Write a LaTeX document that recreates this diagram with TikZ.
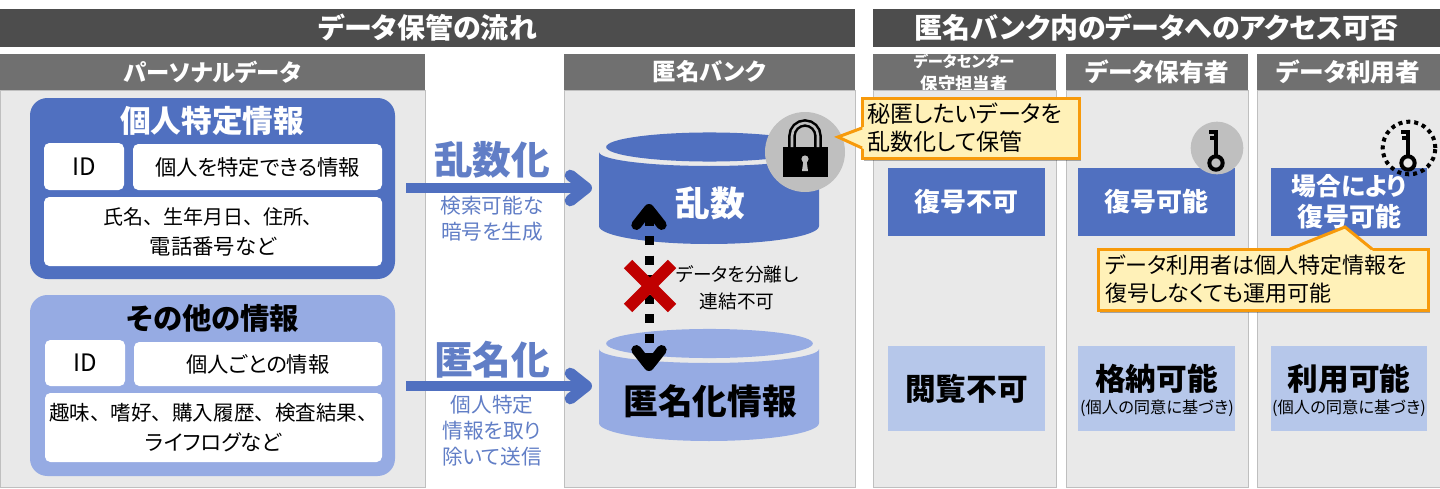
\documentclass[tikz,border=0pt]{standalone}
\usepackage{fontspec}
\setmainfont{Noto Sans CJK JP}[RawFeature=+palt]
\newfontfamily\fullwidth{Noto Sans CJK JP}
\usetikzlibrary{arrows.meta,shapes.misc,shadows}
\definecolor{titlegray}{HTML}{4D4D4D}
\definecolor{headgray}{HTML}{707070}
\definecolor{panelgray}{HTML}{E9E9E9}
\definecolor{edgegray}{HTML}{BFBFBF}
\definecolor{darkblue}{HTML}{5070C0}
\definecolor{midblue}{HTML}{96ABE3}
\definecolor{paleblue}{HTML}{B6C7EA}
\definecolor{noteyellow}{HTML}{FFF1B8}
\definecolor{noteorange}{HTML}{F79A0B}
\definecolor{crossred}{HTML}{C00000}
\newcommand{\pxfont}[2]{\fontsize{#1pt}{#2pt}\selectfont}
\tikzset{
    sized/.style 2 args={
        anchor=north west,
        minimum width=#1*0.75pt,
        minimum height=#2*0.75pt,
        inner sep=0pt,
        outer sep=0pt,
        align=center,
    },
    titlebar/.style={
        fill=titlegray,
        text=white,
        font=\pxfont{21}{24}\bfseries,
    },
    headbar/.style={
        fill=headgray,
        text=white,
        font=\pxfont{17.5}{21}\bfseries,
    },
    panel/.style={
        fill=panelgray,
        draw=edgegray,
        line width=0.75pt,
    },
    infobox/.style={
        rounded corners=13pt,
    },
    whitebox/.style={
        fill=white,
        rounded corners=4pt,
        font=\pxfont{16}{22.5},
    },
    bigword/.style={
        text=darkblue!90!white,
        font=\pxfont{29}{32}\bfseries,
    },
    smallword/.style={
        text=darkblue!90!white,
        align=center,
        font=\pxfont{15.5}{19.5},
    },
    dbword/.style={
        font=\pxfont{26}{30}\bfseries,
    },
    darkcell/.style={
        fill=darkblue,
        text=white,
        font=\pxfont{19.5}{23.5}\bfseries,
    },
    palecell/.style={
        fill=paleblue,
        font=\pxfont{23}{27}\bfseries,
    },
    consent/.style={
        inner sep=0pt,
        font=\pxfont{12.2}{14},
    },
    flowarrow/.style={
        draw=darkblue,
        line width=7.5pt,
        -{Straight Barb[round,length=12pt,width=19pt,line width=8.5pt]},
    },
    linkarrow/.style={
        draw=black,
        line width=6.75pt,
        dash pattern=on 6.75pt off 7.9pt,
        dash phase=-2pt,
        {Straight Barb[round,length=12pt,width=19pt,line width=7.5pt]}-{Straight Barb[round,length=12pt,width=19pt,line width=7.5pt]},
    },
    crossmark/.style={
        cross out,
        draw=crossred,
        line width=9pt,
        minimum size=33pt,
        inner sep=0pt,
        outer sep=0pt,
    },
    notebox/.style={
        rectangle,
        fill=noteyellow,
        draw=noteorange,
        line width=2.25pt,
        font=\pxfont{16.5}{21},
        drop shadow={shadow xshift=1.5pt,shadow yshift=-2.5pt,opacity=0.3,fill=black},
    },
    notetail/.style={
        draw=noteorange,
        line width=2.25pt,
        line join=miter,
    },
    iconring/.style={
        fill=edgegray,
    },
    keyicon/.pic={
        \draw[line width=3.3pt] (0,-18) -- (0,9);
        \draw[line width=3pt] (-7,-16.5) -- (0,-16.5);
        \draw[line width=3pt] (-6,-10) -- (0,-10);
        \draw[line width=3pt] (0,15) circle[radius=5pt];
    },
}

\newcommand{\dbstack}[3]{
    \fill[#1] (599,#2) -- (599,#2+74) arc[start angle=180,end angle=360,x radius=82.5pt,y radius=13.5pt]
        -- (819,#2) arc[start angle=360,end angle=180,x radius=82.5pt,y radius=10.5pt] -- cycle;
    \fill[#1] (709.5,#3) circle[x radius=77.5pt,y radius=10.9pt];
}

\begin{document}
\begin{tikzpicture}[x=0.75pt,y=-0.75pt,>=stealth]
    \useasboundingbox (0,0) rectangle (1440,489);

    \node[sized={855}{38},titlebar] (flowtitle) at (0,9) {データ保管の流れ};
    \node[sized={567}{38},titlebar] (accesstitle) at (873,9) {匿名バンク内のデータへのアクセス可否};

    \node[sized={425}{36},headbar] (personalhead) at (0,54) {パーソナルデータ};
    \node[sized={291}{36},headbar] (bankhead) at (564,54) {匿名バンク};
    \node[sized={183}{36},headbar] (centerhead) at (873,54) {};
    \node[text=white,align=center,font=\pxfont{11.5}{17}\bfseries] (centerword) at (964,73) {データセンター\\\pxfont{13}{17}保守担当者};
    \node[sized={182}{36},headbar,font=\pxfont{18.5}{21}\bfseries] (holderhead) at (1066,54) {データ保有者};
    \node[sized={183}{36},headbar,font=\pxfont{18.5}{21}\bfseries] (userhead) at (1257,54) {データ利用者};

    \node[sized={425}{397},panel] (personalbody) at (0,90) {};
    \node[sized={291}{397},panel] (bankbody) at (564,90) {};
    \node[sized={183}{397},panel] (centerbody) at (873,90) {};
    \node[sized={182}{397},panel] (holderbody) at (1066,90) {};
    \node[sized={183}{397},panel] (userbody) at (1257,90) {};

    \node[sized={365}{181},infobox,fill=darkblue] (idcard) at (30,98) {};
    \node[text=white,font=\pxfont{23}{26}\bfseries] (idtitle) at (212,121) {個人特定情報};
    \node[sized={80}{47},whitebox,font=\pxfont{18}{22}] (idkey) at (44,143) {ID};
    \node[sized={249}{46},whitebox] (idnote) at (133,144) {個人を特定できる情報};
    \node[sized={338}{69},whitebox] (idlist) at (44,197) {{\fullwidth\pxfont{15}{22.5}氏名、生年月日、住所、}\\電話番号など};

    \node[sized={365}{181},infobox,fill=midblue] (othercard) at (30,295) {};
    \node[font=\pxfont{22}{26}\bfseries] (othertitle) at (213,318) {その他の情報};
    \node[sized={80}{46},whitebox,font=\pxfont{18}{22}] (otherkey) at (45,340) {ID};
    \node[sized={248}{44},whitebox] (othernote) at (134,342) {個人ごとの情報};
    \node[sized={337}{69},whitebox] (otherlist) at (45,393) {{\fullwidth\pxfont{15.4}{22.5}趣味、嗜好、購入履歴、検査結果、}\\ライフログなど};

    \coordinate (randfrom) at (406,188);
    \coordinate (randto) at (592,188);
    \coordinate (anonfrom) at (406,386);
    \coordinate (anonto) at (592,386);
    \draw[flowarrow] (randfrom) -- (randto);
    \draw[flowarrow] (anonfrom) -- (anonto);
    \node[bigword] (randword) at (492,160) {乱数化};
    \node[smallword] (randnote) at (492,219) {検索可能な\\暗号を生成};
    \node[bigword] (anonword) at (492,360) {匿名化};
    \node[smallword] (anonnote) at (492,431) {個人特定\\情報を取り\\除いて送信};

    \dbstack{darkblue}{152}{147}
    \dbstack{midblue}{349}{343.5}
    \node[dbword,text=white] (randdb) at (710,203) {乱数};
    \node[dbword] (anondb) at (710,401) {匿名化情報};

    \node[circle,iconring,minimum size=60pt,inner sep=0pt] (lockring) at (805,152) {};
    \fill (783,147) rectangle (828,177);
    \draw[line width=1.9pt,double=edgegray,double distance=1.9pt] (792,147) -- (792,136)
        arc[start angle=180,end angle=0,radius=9.75pt] -- (818,147);
    \fill[edgegray] (805,159) circle[radius=2.7pt];
    \fill[edgegray] (803.5,160) -- (806.5,160) -- (808,171) -- (802,171) -- cycle;

    \coordinate (linkup) at (649,204);
    \coordinate (linkdown) at (649,371);
    \draw[linkarrow] (linkup) -- (linkdown);
    \node[crossmark] (linkcross) at (650,286) {};
    \node[align=center,font=\pxfont{14}{20}] (linknote) at (737,288) {データを分離し\\連結不可};

    \node[sized={157}{68},darkcell] (centerdec) at (888,168) {復号不可};
    \node[sized={157}{68},darkcell] (holderdec) at (1078,168) {復号可能};
    \node[sized={156}{68},darkcell] (userdec) at (1271,168) {{\pxfont{18.5}{23.5}場合により}\\復号可能};

    \node[sized={157}{85},palecell] (centerread) at (888,346) {閲覧不可};
    \node[sized={157}{85},palecell] (holderread) at (1078,346) {};
    \node[palecell,fill=none] (holderword) at (1156.5,379) {格納可能};
    \node[consent] (holderbasis) at (1157,408) {(個人の同意に基づき)};
    \node[sized={156}{85},palecell] (userread) at (1271,346) {};
    \node[palecell,fill=none] (userword) at (1349,379) {利用可能};
    \node[consent] (userbasis) at (1349,408) {(個人の同意に基づき)};

    \node[circle,iconring,minimum size=39.5pt,inner sep=0pt] (holderring) at (1217,148) {};
    \pic at (1216,148) {keyicon};
    \node[circle,draw,line width=3pt,dash pattern=on 3pt off 3pt,minimum size=39.5pt,inner sep=0pt] (userring) at (1409,148) {};
    \pic at (1408,148) {keyicon};

    \node[notebox,sized={217}{60},align=left,text width=155pt,font=\pxfont{17.3}{21}] (locknote) at (862,98) {秘匿したいデータを\\乱数化して保管};
    \coordinate (locktip) at (838,137);
    \fill[noteyellow] ([xshift=2pt,yshift=1pt]locknote.west) -- (locktip) -- ([xshift=2pt,yshift=-16pt]locknote.west) -- cycle;
    \draw[notetail] (locknote.west) -- (locktip) -- ([yshift=-15pt]locknote.west);
    \node[notebox,sized={330}{61},align=left,text width=237pt] (usernote) at (1098,249) {データ利用者は個人特定情報を\\復号しなくても運用可能};
    \coordinate (usertip) at (1345,227);
    \fill[noteyellow] ([xshift=19pt,yshift=-2pt]usernote.north) -- (usertip) -- ([xshift=83pt,yshift=-2pt]usernote.north) -- cycle;
    \draw[notetail] ([xshift=20.25pt]usernote.north) -- (usertip) -- ([xshift=81.75pt]usernote.north);
\end{tikzpicture}
\end{document}
